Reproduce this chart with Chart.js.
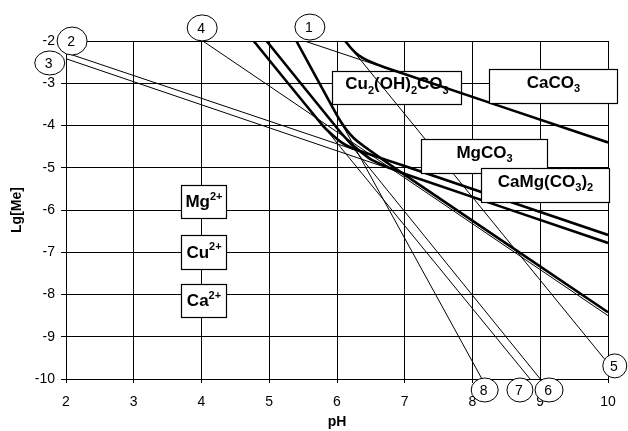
<!DOCTYPE html>
<html><head><meta charset="utf-8">
<script src="https://cdn.jsdelivr.net/npm/chart.js@4/dist/chart.umd.min.js"></script>
<style>html,body{margin:0;padding:0;background:#fff}#wrap{width:628px;height:431px}</style>
</head><body><div id="wrap"><canvas id="c" width="628" height="431"></canvas></div>
<script>
// ---- axis ticks ----
const xTicks = [2, 3, 4, 5, 6, 7, 8, 9, 10];
const yTicks = [-2, -3, -4, -5, -6, -7, -8, -9, -10];

// ---- thin lines, labelled 1..8 (pH, lg[Me]) ----
const line1_pH = [5.52, 10];   const line1_lg = [-2, -4.40];
const line2_pH = [2.02, 10];   const line2_lg = [-2.29, -6.59];
const line3_pH = [2.00, 10];   const line3_lg = [-2.42, -6.78];
const line4_pH = [4.02, 10];   const line4_lg = [-2, -8.50];
const line5_pH = [6.12, 9.96]; const line5_lg = [-2, -9.55];
const line6_pH = [4.96, 9.00]; const line6_lg = [-2, -10];
const line7_pH = [4.77, 8.85]; const line7_lg = [-2, -10];
const line8_pH = [5.40, 8.14]; const line8_lg = [-2, -10];

// ---- thick solubility curves ----
const caco3_pH = [6.12, 6.22, 6.32, 6.45, 6.7, 10];
const caco3_lg = [-2, -2.19, -2.34, -2.46, -2.62, -4.40];
const cuCarb_pH = [5.40, 6.0, 6.12, 6.25, 6.45, 7.0, 10];
const cuCarb_lg = [-2, -3.76, -4.06, -4.30, -4.55, -5.17, -8.42];
const mgco3_pH = [4.77, 5.8, 5.95, 6.05, 6.2, 6.5, 7.0, 10];
const mgco3_lg = [-2, -4.02, -4.25, -4.38, -4.52, -4.69, -4.96, -6.59];
const dolo_pH = [4.96, 6.0, 6.2, 6.35, 6.5, 6.8, 7.1, 10];
const dolo_lg = [-2, -4.06, -4.42, -4.62, -4.80, -5.02, -5.20, -6.78];

const FONT = '"Liberation Sans", Arial, sans-serif';

function pts(xs, ys) { return xs.map((x, i) => ({x: x, y: ys[i]})); }
function thin(xs, ys) {
  return {data: pts(xs, ys), borderColor: '#000', borderWidth: 1, pointRadius: 0, showLine: true, tension: 0, fill: false};
}
function thick(xs, ys) {
  return {data: pts(xs, ys), borderColor: '#000', borderWidth: 2.6, pointRadius: 0, showLine: true,
          tension: 0.2, fill: false};
}

// annotation boxes (data coordinates)
const boxes = [
  {under: true,  x0: 5.93, x1: 7.83, y0: -2.71, y1: -3.49, dy: 1,
   parts: [{t:'Cu'},{t:'2',s:1},{t:'(OH)'},{t:'2',s:1},{t:'CO'},{t:'3',s:1}]},
  {under: false, x0: 8.24, x1: 10.13, y0: -2.66, y1: -3.47, dy: 1,
   parts: [{t:'CaCO'},{t:'3',s:1}]},
  {under: false, x0: 7.24, x1: 9.10, y0: -4.32, y1: -5.12, dy: 1,
   parts: [{t:'MgCO'},{t:'3',s:1}]},
  {under: false, x0: 8.13, x1: 10.01, y0: -5.01, y1: -5.81, dy: 1,
   parts: [{t:'CaMg(CO'},{t:'3',s:1},{t:')'},{t:'2',s:1}]},
  {under: false, x0: 3.70, x1: 4.36, y0: -5.41, y1: -6.19, dy: 5,
   parts: [{t:'Mg'},{t:'2+',u:1}]},
  {under: false, x0: 3.70, x1: 4.36, y0: -6.59, y1: -7.40, dy: 5,
   parts: [{t:'Cu'},{t:'2+',u:1}]},
  {under: false, x0: 3.70, x1: 4.36, y0: -7.75, y1: -8.53, dy: 5,
   parts: [{t:'Ca'},{t:'2+',u:1}]}
];
// numbered circles (data coordinates of centre)
const circles = [
  {n:'1', x: 5.60, y: -1.67, rx: 15, ry: 13},
  {n:'2', x: 2.09, y: -2.00, rx: 15, ry: 14},
  {n:'3', x: 1.76, y: -2.52, rx: 15, ry: 12},
  {n:'4', x: 4.01, y: -1.69, rx: 15, ry: 13},
  {n:'5', x: 10.10, y: -9.69, rx: 12, ry: 12},
  {n:'6', x: 9.13, y: -10.26, rx: 14, ry: 12},
  {n:'7', x: 8.70, y: -10.26, rx: 13, ry: 12},
  {n:'8', x: 8.18, y: -10.26, rx: 13.5, ry: 12}
];

function drawRich(ctx, parts, cx, baseY, size) {
  let w = 0;
  parts.forEach(p => {
    ctx.font = 'bold ' + ((p.s || p.u) ? Math.round(size * 0.66) : size) + 'px ' + FONT;
    p.w = ctx.measureText(p.t).width; w += p.w;
  });
  let x = cx - w / 2;
  ctx.textAlign = 'left'; ctx.textBaseline = 'alphabetic'; ctx.fillStyle = '#000';
  parts.forEach(p => {
    ctx.font = 'bold ' + ((p.s || p.u) ? Math.round(size * 0.66) : size) + 'px ' + FONT;
    const y = baseY + (p.s ? size * 0.28 : (p.u ? -size * 0.42 : 0));
    ctx.fillText(p.t, x, y); x += p.w;
  });
}
function drawBox(chart, b) {
  const ctx = chart.ctx, xs = chart.scales.x, ys = chart.scales.y;
  const L = Math.round(xs.getPixelForValue(b.x0)) + 0.5, R = Math.round(xs.getPixelForValue(b.x1)) + 0.5;
  const T = Math.round(ys.getPixelForValue(b.y0)) + 0.5, B = Math.round(ys.getPixelForValue(b.y1)) + 0.5;
  ctx.save();
  ctx.fillStyle = '#fff'; ctx.fillRect(L, T, R - L, B - T);
  ctx.strokeStyle = '#000'; ctx.lineWidth = 1.2; ctx.strokeRect(L, T, R - L, B - T);
  drawRich(ctx, b.parts, (L + R) / 2, (T + B) / 2 + b.dy, 17);
  ctx.restore();
}

const annot = {
  id: 'annot',
  beforeDatasetsDraw(chart) { boxes.filter(b => b.under).forEach(b => drawBox(chart, b)); },
  afterDatasetsDraw(chart) { boxes.filter(b => !b.under).forEach(b => drawBox(chart, b)); },
  afterDraw(chart) {
    const ctx = chart.ctx, xs = chart.scales.x, ys = chart.scales.y;
    ctx.save();
    circles.forEach(c => {
      const cx = xs.getPixelForValue(c.x), cy = ys.getPixelForValue(c.y);
      ctx.beginPath(); ctx.ellipse(cx, cy, c.rx, c.ry, 0, 0, Math.PI * 2);
      ctx.fillStyle = '#fff'; ctx.fill();
      ctx.strokeStyle = '#000'; ctx.lineWidth = 1; ctx.stroke();
      ctx.fillStyle = '#000'; ctx.font = '14px ' + FONT; ctx.textAlign = 'center'; ctx.textBaseline = 'middle';
      ctx.fillText(c.n, cx - 1, cy + 1);
    });
    ctx.restore();
  }
};

new Chart(document.getElementById('c'), {
  type: 'scatter',
  data: {datasets: [
    thick(caco3_pH, caco3_lg), thick(cuCarb_pH, cuCarb_lg), thick(mgco3_pH, mgco3_lg), thick(dolo_pH, dolo_lg),
    thin(line1_pH, line1_lg), thin(line2_pH, line2_lg), thin(line3_pH, line3_lg), thin(line4_pH, line4_lg),
    thin(line5_pH, line5_lg), thin(line6_pH, line6_lg), thin(line7_pH, line7_lg), thin(line8_pH, line8_lg)
  ]},
  options: {
    responsive: false, animation: false, devicePixelRatio: 1,
    layout: {padding: {top: 41, right: 20, left: 0, bottom: 0}},
    plugins: {legend: {display: false}, tooltip: {enabled: false}},
    scales: {
      x: {
        type: 'linear', min: 2, max: 10,
        afterFit(s) { s.height = 52; },
        afterBuildTicks(s) { s.ticks = xTicks.map(v => ({value: v})); },
        grid: {color: '#000', lineWidth: 1, tickLength: 4},
        border: {color: '#000', width: 1},
        ticks: {color: '#000', font: {family: FONT, size: 14}, padding: 11, maxRotation: 0},
        title: {display: true, text: 'pH', color: '#000', font: {family: FONT, size: 14, weight: 'bold'}, padding: {top: 0, bottom: 0}}
      },
      y: {
        type: 'linear', min: -10, max: -2,
        afterFit(s) { s.width = 66; },
        afterBuildTicks(s) { s.ticks = yTicks.map(v => ({value: v})); },
        grid: {color: '#000', lineWidth: 1, tickLength: 5},
        border: {color: '#000', width: 1},
        ticks: {color: '#000', font: {family: FONT, size: 14}, padding: 6},
        title: {display: true, text: 'Lg[Me]', color: '#000', font: {family: FONT, size: 14, weight: 'bold'}, padding: {top: 9, bottom: 0}}
      }
    }
  },
  plugins: [annot]
});
</script></body></html>
